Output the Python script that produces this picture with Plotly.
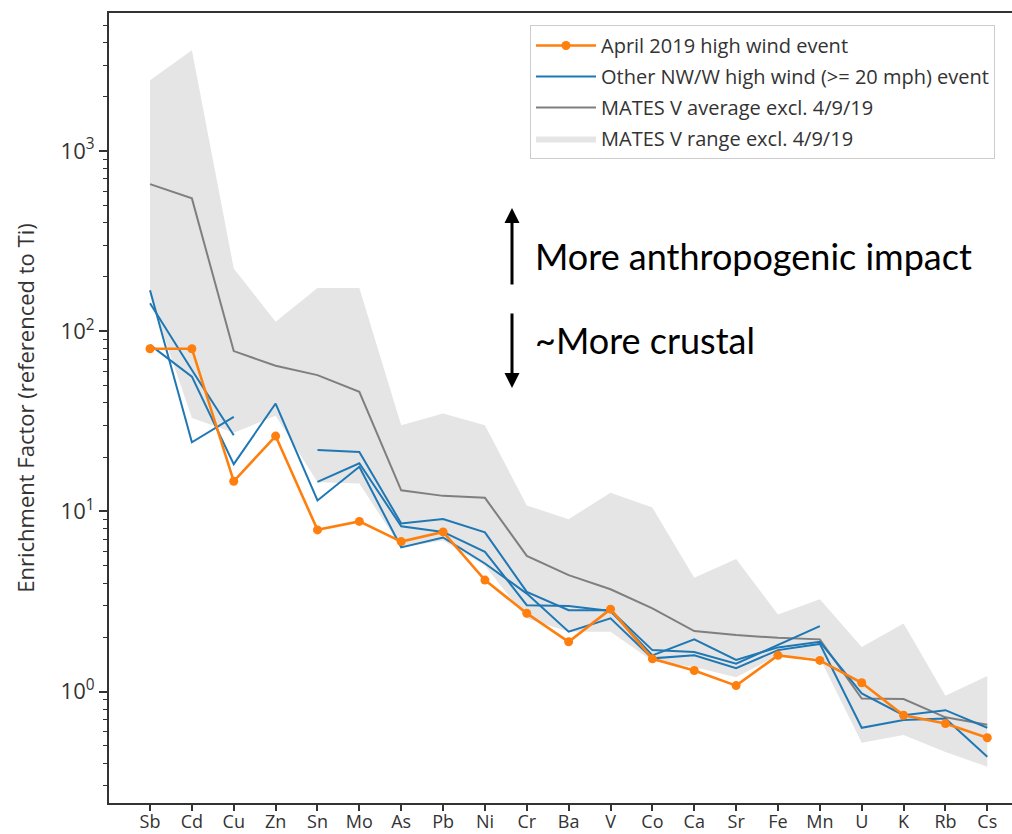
import plotly.graph_objects as go

elements = ["Sb", "Cd", "Cu", "Zn", "Sn", "Mo", "As", "Pb", "Ni", "Cr", "Ba",
            "V", "Co", "Ca", "Sr", "Fe", "Mn", "U", "K", "Rb", "Cs"]

april_2019 = [80, 80, 14.7, 26.2, 7.9, 8.8, 6.8, 7.7, 4.16, 2.72, 1.89,
              2.87, 1.52, 1.31, 1.08, 1.59, 1.49, 1.12, 0.74, 0.665, 0.555]

other_event_1 = [169, 24.2, 33.5, None, 21.9, 21.4, 8.58, 9.07, 7.65, 3.58, 2.83,
                 2.83, 1.70, 1.66, 1.43, 1.81, 2.31, None, None, None, None]
other_event_2 = [143, 61, 26.5, None, 14.6, 18.5, 8.28, 7.7, 5.97, 3.02, 2.99,
                 2.80, 1.59, 1.95, 1.50, 1.76, 1.89, 0.977, 0.74, 0.789, 0.63]
other_event_3 = [84, 56, 18.3, 39.7, 11.5, 17.7, 6.31, 7.17, 5.14, 3.50, 2.15,
                 2.55, 1.53, 1.59, 1.35, 1.70, 1.84, 0.63, 0.695, 0.71, 0.435]

mates_avg = [655, 546, 77.6, 64.3, 57.1, 46.1, 13.1, 12.2, 11.9, 5.67, 4.43,
             3.70, 2.90, 2.17, 2.06, 1.99, 1.95, 0.916, 0.909, 0.72, 0.655]
mates_max = [2470, 3630, 223, 113, 174, 174, 30.1, 35.0, 30.1, 10.8, 9.06,
             12.7, 10.5, 4.28, 5.44, 2.68, 3.26, 1.77, 2.39, 0.95, 1.22]
mates_min = [158, 33, 27.3, 34, 14.5, 14.3, 6.3, 6.9, 5.0, 2.55, 2.15,
             2.15, 1.48, 1.37, 1.20, 1.59, 1.53, 0.52, 0.574, 0.463, 0.383]

major_ticks = [1, 10, 100, 1000]
major_text = ["10<sup>0</sup>", "10<sup>1</sup>", "10<sup>2</sup>", "10<sup>3</sup>"]
minor_ticks = [m * d for d in [0.1, 1, 10, 100, 1000] for m in range(2, 10)]

FONT = "Open Sans"
AX = "#333333"
TXT = "#333333"

fig = go.Figure()

fig.add_trace(go.Scatter(x=elements, y=mates_max, mode="lines",
                         line=dict(width=0, color="rgba(0,0,0,0)"),
                         showlegend=False, hoverinfo="skip", legendgroup="rng"))
fig.add_trace(go.Scatter(x=elements, y=mates_min, mode="lines", fill="tonexty",
                         fillcolor="#e5e5e5", line=dict(width=0, color="rgba(0,0,0,0)"),
                         name="MATES V range excl. 4/9/19", legendrank=4,
                         legendgroup="rng"))
fig.add_trace(go.Scatter(x=elements, y=mates_avg, mode="lines",
                         line=dict(color="#7f7f7f", width=2),
                         name="MATES V average excl. 4/9/19", legendrank=3,
                         legendgroup="avg"))
for i, ser in enumerate([other_event_1, other_event_2, other_event_3]):
    fig.add_trace(go.Scatter(x=elements, y=ser, mode="lines",
                             line=dict(color="#1f77b4", width=2),
                             name="Other NW/W high wind (>= 20 mph) event",
                             legendgroup="other", showlegend=(i == 0),
                             legendrank=2, connectgaps=False))
fig.add_trace(go.Scatter(x=elements, y=april_2019, mode="lines+markers",
                         line=dict(color="#ff7f0e", width=2.6),
                         marker=dict(size=9, color="#ff7f0e"),
                         name="April 2019 high wind event", legendrank=1,
                         legendgroup="apr"))

L, R, T, B = 109, 1012, 13, 803
W, H = R - L, B - T


def px(x):
    return (x - L) / W


def py(y):
    return (B - y) / H


fig.update_layout(
    width=1012, height=834,
    margin=dict(l=L, r=1012 - R, t=T, b=834 - B),
    plot_bgcolor="white", paper_bgcolor="white",
    font=dict(family=FONT, size=18, color=TXT),
    showlegend=True,
    legend=dict(x=px(530), y=py(25), xanchor="left", yanchor="top",
                bgcolor="rgba(255,255,255,0.85)", bordercolor="#cccccc",
                borderwidth=1, font=dict(family=FONT, size=20, color=TXT),
                tracegroupgap=2, itemwidth=60, traceorder="grouped"),
)

fig.update_xaxes(
    type="category", range=[-0.98, 20.59], automargin=False,
    showline=True, linecolor=AX, linewidth=2, mirror=True,
    ticks="outside", ticklen=6, tickwidth=1.5, tickcolor=AX,
    ticklabelstandoff=-5,
    showgrid=False, zeroline=False,
    tickfont=dict(family=FONT, size=18, color=TXT),
)
fig.update_yaxes(
    type="log", range=[-0.618, 3.766], automargin=False,
    showline=True, linecolor=AX, linewidth=2,
    ticks="outside", ticklen=8, tickwidth=1.5, tickcolor=AX,
    tickvals=major_ticks, ticktext=major_text,
    minor=dict(tickvals=minor_ticks, ticks="outside", ticklen=4, tickwidth=1,
               tickcolor=AX, showgrid=False),
    showgrid=False, zeroline=False,
    tickfont=dict(family=FONT, size=22, color=TXT),
    title=dict(text="Enrichment Factor (referenced to Ti)", standoff=20,
               font=dict(family=FONT, size=22, color=TXT)),
)

ANN_FONT = dict(family="Lato", size=36, color="black")
fig.add_annotation(xref="paper", yref="paper", x=px(512), y=py(208),
                   ax=0, ay=78, axref="pixel", ayref="pixel",
                   showarrow=True, arrowhead=2, arrowsize=1, arrowwidth=3,
                   arrowcolor="black", text="")
fig.add_annotation(xref="paper", yref="paper", x=px(512), y=py(388),
                   ax=0, ay=-76, axref="pixel", ayref="pixel",
                   showarrow=True, arrowhead=2, arrowsize=1, arrowwidth=3,
                   arrowcolor="black", text="")
fig.add_annotation(xref="paper", yref="paper", x=px(533), y=py(256),
                   xanchor="left", yanchor="middle", showarrow=False,
                   text="More anthropogenic impact", font=ANN_FONT)
fig.add_annotation(xref="paper", yref="paper", x=px(533), y=py(340),
                   xanchor="left", yanchor="middle", showarrow=False,
                   text="~More crustal", font=ANN_FONT)

fig.write_html("out.html")
